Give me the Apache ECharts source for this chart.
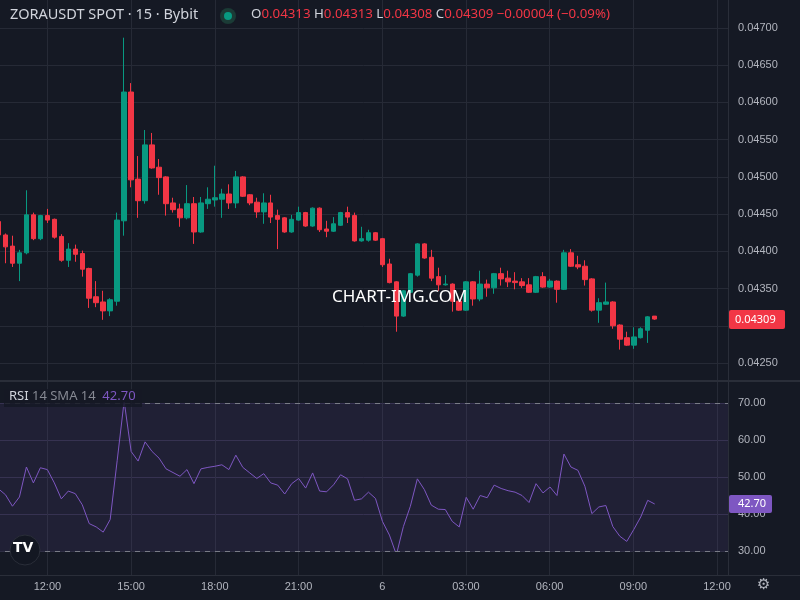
<!DOCTYPE html>
<html><head><meta charset="utf-8">
<script src="https://cdn.jsdelivr.net/npm/echarts@6/dist/echarts.min.js"></script>
<style>html,body{margin:0;padding:0;background:#151924}#c{width:800px;height:600px}</style>
</head><body><div id="c"></div>
<script>
// prices in units of 0.00001
const opens  = [4440,4422,4407,4384,4398,4449,4417,4448,4443,4420,4388,4403,4397,4377,4339,4332,4320,4333,4441,4614,4497,4468,4543,4513,4500,4465,4457,4445,4464,4426,4464,4469,4470,4477,4465,4500,4476,4466,4453,4465,4448,4445,4426,4442,4452,4434,4458,4430,4427,4435,4452,4448,4414,4415,4425,4417,4383,4359,4313,4345,4368,4410,4392,4366,4355,4356,4333,4321,4359,4336,4356,4351,4370,4364,4360,4359,4355,4345,4366,4352,4360,4349,4398,4382,4380,4363,4321,4329,4332,4301,4284,4274,4284,4294,4313];
const closes = [4422,4406,4384,4398,4449,4417,4448,4442,4419,4388,4403,4396,4376,4337,4331,4320,4335,4442,4614,4496,4468,4543,4512,4499,4464,4456,4445,4464,4426,4465,4470,4472,4477,4465,4500,4474,4465,4453,4465,4446,4443,4426,4443,4452,4434,4458,4429,4427,4437,4452,4446,4414,4417,4425,4415,4382,4358,4313,4347,4370,4410,4391,4364,4355,4356,4333,4321,4359,4336,4356,4351,4370,4363,4359,4358,4354,4345,4366,4352,4360,4349,4398,4380,4379,4362,4321,4331,4332,4300,4282,4274,4285,4296,4312,4309];
const lows   = [4415,4384,4379,4360,4396,4415,4415,4438,4417,4386,4379,4386,4366,4324,4325,4308,4313,4327,4421,4486,4445,4464,4511,4476,4448,4452,4433,4443,4410,4425,4457,4460,4445,4457,4458,4473,4462,4445,4437,4438,4403,4425,4425,4441,4433,4433,4426,4419,4426,4434,4438,4413,4413,4413,4414,4379,4357,4292,4312,4344,4366,4390,4360,4347,4354,4319,4320,4320,4327,4333,4339,4343,4354,4352,4349,4351,4344,4344,4351,4351,4331,4348,4379,4376,4354,4319,4304,4328,4296,4268,4273,4269,4283,4277,4308];
const highs  = [4449,4424,4421,4402,4482,4452,4449,4457,4444,4423,4411,4409,4401,4378,4360,4347,4337,4452,4687,4626,4528,4563,4559,4524,4501,4472,4464,4489,4473,4473,4486,4515,4484,4490,4508,4501,4477,4472,4478,4476,4456,4446,4449,4460,4453,4459,4459,4441,4446,4453,4460,4452,4433,4429,4426,4418,4390,4360,4348,4371,4411,4411,4402,4378,4368,4357,4334,4360,4360,4374,4362,4371,4378,4374,4372,4364,4364,4367,4372,4363,4361,4402,4403,4394,4388,4364,4337,4358,4333,4302,4292,4298,4298,4313,4313];
const rsi = [46.8,45.2,42.1,44.6,52.7,48.4,52.5,52.0,48.4,44.1,46.2,45.5,42.5,37.4,36.5,35.1,38.5,54.4,70.5,56.9,54.3,59.5,56.9,55.1,52.2,51.2,50.2,52.0,48.2,52.2,52.6,52.9,53.3,52.0,55.9,52.6,51.1,49.6,50.9,48.4,47.8,45.4,48.2,49.6,47.0,51.1,46.2,46.0,47.9,50.6,49.5,43.7,44.1,45.9,44.2,38.0,34.3,29.0,36.6,42.1,49.5,46.6,42.4,41.3,41.2,38.0,36.5,44.5,41.3,45.0,44.4,47.8,46.9,46.3,45.9,45.0,43.1,48.2,45.7,47.3,45.0,56.2,52.7,51.8,47.5,40.1,41.9,42.3,36.6,34.0,32.6,35.8,39.2,43.7,42.7];
const timeLabels = ["12:00","15:00","18:00","21:00","6","03:00","06:00","09:00","12:00"];
const priceTicks = [0.0425,0.047];
const rsiTicks = [30,70];
const lastPrice = 0.04309, lastRsi = 42.70;

const N = 105;
const cats = Array.from({length:N},(_,i)=>String(i));
const candle = opens.map((o,i)=>[o/1e5, closes[i]/1e5, lows[i]/1e5, highs[i]/1e5]);
const up='#089981', dn='#f23645', grid='#262a36', txt='#b2b5be';
const ob = {outerBoundsMode:'none', containLabel:false};

const chart = echarts.init(document.getElementById('c'));
chart.setOption({
  backgroundColor:'#151924',
  animation:false,
  grid:[
    Object.assign({left:47.4,width:669.6,top:0,height:575},ob),
    Object.assign({left:-5,width:733,top:28,height:335},ob),
    Object.assign({left:-5,width:733,top:403,height:148},ob)
  ],
  xAxis:[
    {gridIndex:0,type:'value',min:0,max:96,interval:12,
     axisLine:{show:false},axisTick:{show:false},
     splitLine:{lineStyle:{color:grid}},
     axisLabel:{color:txt,fontSize:11,margin:6,formatter:v=>timeLabels[Math.round(v/12)]||''}},
    {gridIndex:1,type:'category',data:cats,show:false,boundaryGap:true},
    {gridIndex:2,type:'category',data:cats,show:false,boundaryGap:true}
  ],
  yAxis:[
    {gridIndex:0,type:'value',show:false},
    {gridIndex:1,type:'value',position:'right',min:priceTicks[0],max:priceTicks[1],interval:0.0005,
     axisLine:{show:false},axisTick:{show:false},
     splitLine:{lineStyle:{color:grid}},
     axisLabel:{color:txt,fontSize:11,margin:10,formatter:v=>v.toFixed(5)}},
    {gridIndex:2,type:'value',position:'right',min:rsiTicks[0],max:rsiTicks[1],interval:10,
     axisLine:{show:false},axisTick:{show:false},
     splitLine:{lineStyle:{color:'#2e2e44'}},
     axisLabel:{color:txt,fontSize:11,margin:10,formatter:v=>v.toFixed(2)}}
  ],
  series:[
    {type:'candlestick',xAxisIndex:1,yAxisIndex:1,data:candle,barWidth:5,
     itemStyle:{color:up,color0:dn,borderColor:up,borderColor0:dn,borderWidth:1},
     markLine:{symbol:'none',silent:true,label:{show:false},
       data:[{yAxis:lastPrice}],
       lineStyle:{color:dn,type:[1,3],width:1}}},
    {type:'line',xAxisIndex:2,yAxisIndex:2,data:rsi,symbol:'none',
     lineStyle:{color:'#7e57c2',width:1},
     markArea:{silent:true,itemStyle:{color:'rgba(126,87,194,0.11)'},data:[[{yAxis:30},{yAxis:70}]]},
     markLine:{symbol:'none',silent:true,label:{show:false},
       data:[{yAxis:70},{yAxis:30}],
       lineStyle:{color:'#787b86',type:[5,5],width:1}}}
  ]
});
const py = chart.convertToPixel({yAxisIndex:1}, lastPrice);
const ry = chart.convertToPixel({yAxisIndex:2}, lastRsi);
chart.setOption({graphic:[
    {type:'line',shape:{x1:0,y1:381,x2:800,y2:381},style:{stroke:'#2a2e39',lineWidth:2},z:10},
    {type:'line',shape:{x1:728.5,y1:0,x2:728.5,y2:575},style:{stroke:'#2a2e39',lineWidth:1},z:10},
    {type:'line',shape:{x1:0,y1:575.5,x2:800,y2:575.5},style:{stroke:'#2a2e39',lineWidth:1},z:10},
    {type:'rect',shape:{x:729,y:py-9,width:56,height:19,r:2},style:{fill:dn},z:30},
    {type:'text',x:735,y:py+0.5,z:31,style:{text:lastPrice.toFixed(5),fill:'#fff',font:'11px "Noto Sans", sans-serif',verticalAlign:'middle'}},
    {type:'rect',shape:{x:729,y:ry-9,width:43,height:18,r:2},style:{fill:'#7e57c2'},z:30},
    {type:'text',x:738,y:ry,z:31,style:{text:lastRsi.toFixed(2),fill:'#fff',font:'11px "Noto Sans", sans-serif',verticalAlign:'middle'}},
    {type:'text',left:10,top:7,z:20,style:{text:'ZORAUSDT SPOT · 15 · Bybit',fill:'#d1d4dc',font:'14.5px "Noto Sans", sans-serif'}},
    {type:'circle',shape:{cx:228,cy:16,r:8},style:{fill:'#1b3b36'},z:20},
    {type:'circle',shape:{cx:228,cy:16,r:4},style:{fill:'#089981'},z:21},
    {type:'text',left:251,top:8,z:20,style:{
      text:'{l|O}{v|0.04313} {l|H}{v|0.04313} {l|L}{v|0.04308} {l|C}{v|0.04309} {v|−0.00004 (−0.09%)}',
      rich:{l:{fill:'#d1d4dc',font:'13.3px "Noto Sans", sans-serif'},v:{fill:'#f23645',font:'13.3px "Noto Sans", sans-serif'}}}},
    {type:'text',left:332,top:289,z:20,style:{text:'CHART-IMG.COM',fill:'#ffffff',font:'17px "Noto Sans", sans-serif'}},
    {type:'rect',shape:{x:4,y:389,width:138,height:18},style:{fill:'rgba(21,25,36,0.85)'},z:19},
    {type:'text',left:9,top:390,z:20,style:{
      text:'{a|RSI} {b|14 SMA 14}  {c|42.70}',
      rich:{a:{fill:'#d1d4dc',font:'13px "Noto Sans", sans-serif'},b:{fill:'#868993',font:'13px "Noto Sans", sans-serif'},c:{fill:'#7e57c2',font:'13px "Noto Sans", sans-serif'}}}},
    {type:'circle',shape:{cx:25,cy:550,r:15},style:{fill:'#131722',stroke:'#2a2e39',lineWidth:1},z:20},
    {type:'text',left:13,top:541,z:21,style:{text:'TV',fill:'#fff',font:'bold 14px "DejaVu Sans", sans-serif'}},
    {type:'text',left:757,top:578,z:20,style:{text:'⚙',fill:'#b2b5be',font:'15px "DejaVu Sans", sans-serif'}}
]});
</script></body></html>
